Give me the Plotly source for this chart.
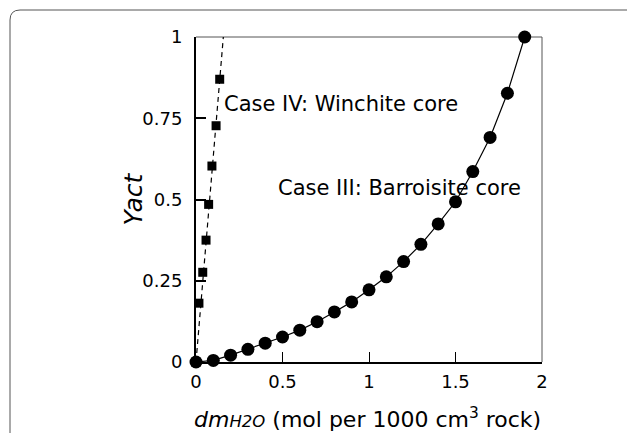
import plotly.graph_objects as go

# Case III: Barroisite core (circles, solid line)
case3_x = [0.0, 0.1, 0.2, 0.3, 0.4, 0.5, 0.6, 0.7, 0.8, 0.9,
           1.0, 1.1, 1.2, 1.3, 1.4, 1.5, 1.6, 1.7, 1.8, 1.9]
case3_y = [0.0, 0.005, 0.021, 0.039, 0.058, 0.077, 0.098, 0.124, 0.154, 0.185,
           0.222, 0.262, 0.309, 0.362, 0.425, 0.493, 0.586, 0.691, 0.827, 1.0]

# Case IV: Winchite core (squares, dashed trend line)
case4_x = [0.0, 0.017, 0.039, 0.058, 0.073, 0.092, 0.116, 0.137]
case4_y = [0.0, 0.181, 0.276, 0.375, 0.485, 0.603, 0.727, 0.870]
case4_line_x = [0.0, 0.158]
case4_line_y = [0.0, 1.0]

x_ticks = [0, 0.5, 1, 1.5, 2]
x_ticklabels = ["0", "0.5", "1", "1.5", "2"]
y_ticks = [0, 0.25, 0.5, 0.75, 1]
y_ticklabels = ["0", "0.25", "0.5", "0.75", "1"]

FONT = "DejaVu Sans, Liberation Sans, Arial, sans-serif"

fig = go.Figure()
fig.add_trace(go.Scatter(x=case4_line_x, y=case4_line_y, mode="lines",
                         line=dict(color="black", width=1.2, dash="5px,4px"),
                         showlegend=False, hoverinfo="skip", cliponaxis=False))
fig.add_trace(go.Scatter(x=case4_x, y=case4_y, mode="markers",
                         marker=dict(symbol="square", size=9, color="black"),
                         showlegend=False, cliponaxis=False))
fig.add_trace(go.Scatter(x=case3_x, y=case3_y, mode="lines+markers",
                         line=dict(color="black", width=1.2),
                         marker=dict(symbol="circle", size=13, color="black"),
                         showlegend=False, cliponaxis=False))

# geometry helpers (paper units)
L, T, B, R = 196, 37, 362, 542
W, H = R - L, B - T
def px(x):
    return (x - L) / W
def py(y):
    return (B - y) / H

fl, ft = px(10), py(10)
fr, fb = px(720), py(520)
rx, ry = 10 / W, 10 / H
frame_path = (f"M {fl},{fb} L {fl},{ft - ry} Q {fl},{ft} {fl + rx},{ft} L {fr},{ft}")

fig.update_layout(
    width=627, height=433,
    margin=dict(l=L, r=627 - R, t=T, b=433 - B),
    paper_bgcolor="white", plot_bgcolor="white",
    font=dict(family=FONT, color="black", size=18),
    xaxis=dict(range=[0, 2], tickvals=x_ticks, ticktext=x_ticklabels,
               ticks="inside", ticklen=10, tickwidth=1, tickcolor="black",
               showline=True, linecolor="black", linewidth=1.5,
               showgrid=False, zeroline=False, ticklabelstandoff=3,
               tickfont=dict(size=18, family=FONT)),
    yaxis=dict(range=[0, 1], tickvals=y_ticks, ticktext=y_ticklabels,
               ticks="inside", ticklen=10, tickwidth=1.5, tickcolor="black",
               showline=True, linecolor="black", linewidth=2,
               showgrid=False, zeroline=False, ticklabelstandoff=8,
               tickfont=dict(size=18, family=FONT)),
    shapes=[
        dict(type="path", xref="paper", yref="paper", path=frame_path,
             line=dict(color="#555555", width=1)),
        dict(type="line", xref="paper", yref="paper", x0=0, x1=1, y0=1, y1=1,
             line=dict(color="#555555", width=1), layer="below"),
        dict(type="line", xref="paper", yref="paper", x0=1, x1=1, y0=0, y1=1,
             line=dict(color="#555555", width=1), layer="below"),
    ],
    annotations=[
        dict(text="Case IV: Winchite core", xref="paper", yref="paper",
             x=px(222), y=py(104), xanchor="left", yanchor="middle",
             showarrow=False, font=dict(size=21, family=FONT)),
        dict(text="Case III: Barroisite core", xref="paper", yref="paper",
             x=px(276), y=py(188), xanchor="left", yanchor="middle",
             showarrow=False, font=dict(size=21, family=FONT)),
        dict(text="<i>Yact</i>", xref="paper", yref="paper",
             x=px(133), y=0.5, textangle=-90, xanchor="center", yanchor="middle",
             showarrow=False, font=dict(size=25, family=FONT)),
        dict(text="<i>dm<span style='font-size:16.5px'>H2O</span></i> (mol per 1000 cm<sup>3</sup> rock)",
             xref="paper", yref="paper", x=px(367.5), y=py(418),
             xanchor="center", yanchor="middle",
             showarrow=False, font=dict(size=22, family=FONT)),
    ],
)

fig.write_html("out.html", post_script="document.body.style.margin='0';",
               config={"displayModeBar": False})
